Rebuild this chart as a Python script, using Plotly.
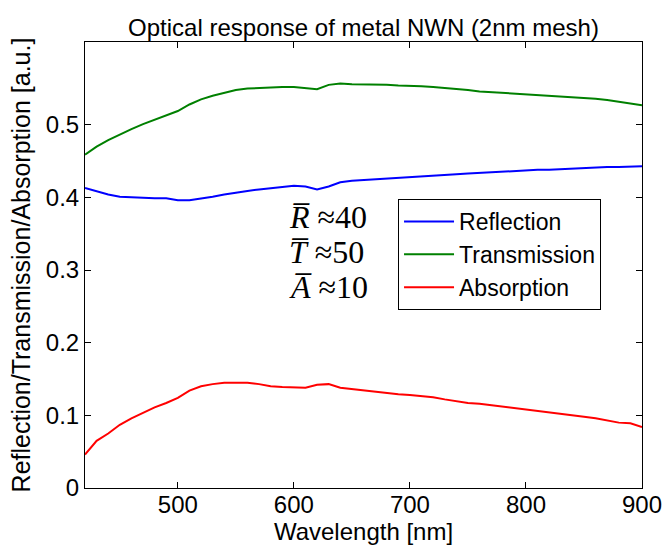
import plotly.graph_objects as go

wavelength = [420, 430, 440, 450, 460, 470, 480, 490, 500, 510,
              520, 530, 540, 550, 560, 570, 580, 590, 600, 610,
              620, 630, 640, 650, 660, 670, 680, 690, 700, 710,
              720, 730, 740, 750, 760, 770, 780, 790, 800, 810,
              820, 830, 840, 850, 860, 870, 880, 890, 900]

reflection = [0.413, 0.408, 0.404, 0.401, 0.400, 0.399, 0.399, 0.399, 0.396, 0.396,
              0.398, 0.401, 0.404, 0.407, 0.409, 0.411, 0.413, 0.415, 0.416, 0.415,
              0.411, 0.415, 0.421, 0.423, 0.424, 0.425, 0.427, 0.428, 0.428, 0.429,
              0.430, 0.431, 0.432, 0.433, 0.434, 0.435, 0.435, 0.436, 0.437, 0.438,
              0.438, 0.439, 0.440, 0.441, 0.441, 0.442, 0.442, 0.443, 0.443]

transmission = [0.459, 0.470, 0.479, 0.487, 0.494, 0.501, 0.507, 0.513, 0.519, 0.528,
                0.535, 0.540, 0.544, 0.548, 0.550, 0.551, 0.552, 0.552, 0.552, 0.551,
                0.549, 0.555, 0.557, 0.556, 0.556, 0.555, 0.555, 0.554, 0.554, 0.553,
                0.552, 0.551, 0.549, 0.548, 0.546, 0.545, 0.544, 0.544, 0.542, 0.541,
                0.540, 0.539, 0.538, 0.537, 0.536, 0.534, 0.532, 0.530, 0.527]

absorption = [0.046, 0.065, 0.075, 0.087, 0.096, 0.104, 0.111, 0.117, 0.124, 0.134,
              0.140, 0.143, 0.145, 0.145, 0.145, 0.143, 0.140, 0.139, 0.138, 0.138,
              0.142, 0.143, 0.138, 0.136, 0.134, 0.132, 0.130, 0.129, 0.128, 0.127,
              0.125, 0.122, 0.119, 0.117, 0.116, 0.114, 0.113, 0.111, 0.109, 0.106,
              0.104, 0.102, 0.100, 0.098, 0.096, 0.093, 0.090, 0.089, 0.084]

series_names = ["Reflection", "Transmission", "Absorption"]
series_colors = ["#0000ff", "#008000", "#ff0000"]
x_ticks = [500, 600, 700, 800, 900]
y_ticks = [0, 0.1, 0.2, 0.3, 0.4, 0.5]
mean_labels = ["<i>R̅</i>&nbsp;≈40", "<i>T̅</i>&nbsp;≈50", "<i>A̅</i>&nbsp;≈10"]
mean_label_y = [0.608, 0.529, 0.451]

FONT = "Arial, Liberation Sans, sans-serif"

fig = go.Figure()
for name, col, vals in zip(series_names, series_colors, [reflection, transmission, absorption]):
    fig.add_trace(go.Scatter(x=wavelength, y=vals, mode="lines", name=name,
                             line=dict(color=col, width=2)))

axis_common = dict(showline=True, linecolor="black", linewidth=1, mirror="ticks",
                   ticks="inside", ticklen=6, tickcolor="black", showgrid=False,
                   zeroline=False, tickfont=dict(size=24, color="black", family=FONT))

fig.update_xaxes(range=[420, 900], tickvals=x_ticks, ticklabelstandoff=-5,
                 title=dict(text="Wavelength [nm]", font=dict(size=24, color="black", family=FONT),
                            standoff=0),
                 **axis_common)
fig.update_yaxes(range=[0, 0.614], tickvals=y_ticks,
                 title=dict(text="Reflection/Transmission/Absorption [a.u.]",
                            font=dict(size=25, color="black", family=FONT), standoff=8),
                 **axis_common)

for lbl, yv in zip(mean_labels, mean_label_y):
    fig.add_annotation(xref="paper", yref="paper", x=0.362, y=yv, xanchor="left",
                       yanchor="middle", text=lbl, showarrow=False, align="left",
                       font=dict(family="Liberation Serif, DejaVu Serif, serif", size=32,
                                 color="black"))

fig.update_layout(
    width=668, height=549,
    margin=dict(l=85, r=26, t=42, b=61, autoexpand=False),
    paper_bgcolor="white", plot_bgcolor="white",
    title=dict(text="Optical response of metal NWN (2nm mesh)", x=0.5, xref="paper",
               y=1 - 28 / 549, yref="container", yanchor="middle",
               font=dict(size=24, color="black", family=FONT)),
    legend=dict(x=0.562, y=0.648, xanchor="left", yanchor="top", bgcolor="white",
                bordercolor="black", borderwidth=1, itemwidth=50,
                font=dict(size=23, color="black", family=FONT)),
    showlegend=True,
)

fig.write_html("out.html")
